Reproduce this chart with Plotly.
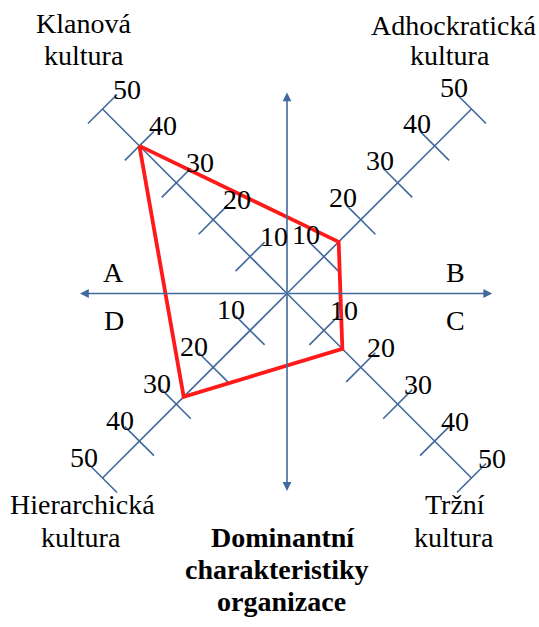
import plotly.graph_objects as go

# ---------------- data ----------------
culture_names = ["Klanová", "Adhockratická", "Tržní", "Hierarchická"]
culture_word = "kultura"
culture_values = [40, 14, 15, 28]          # Klanová, Adhockratická, Tržní, Hierarchická
tick_values = [10, 20, 30, 40, 50]
tick_labels = ["10", "20", "30", "40", "50"]
quadrant_labels = ["A", "B", "C", "D"]
title_lines = ["Dominantní", "charakteristiky", "organizace"]

# ---------------- geometry / style ----------------
W, H = 539, 627
PX = 3.69                 # pixels per unit
CX, CY = 287, 293.5       # centre in pixels
x_range = [-CX / PX, (W - CX) / PX]
y_range = [-(H - CY) / PX, CY / PX]

BLUE = "#41699b"
RED = "#ff1a1a"
FONT = "Liberation Serif"

# diagonal directions: TL (Klanová), TR (Adhock.), BR (Tržní), BL (Hierarch.)
dirs = [(-1, 1), (1, 1), (1, -1), (-1, -1)]
label_shift = [(24, 20), (-18, 22), (20, 20), (-19, 21)]
TICK_HALF = 3.94

fig = go.Figure()

# diagonal axes
for dx, dy in dirs:
    vmax = max(tick_values)
    fig.add_trace(go.Scatter(x=[0, dx * vmax], y=[0, dy * vmax], mode="lines",
                             line=dict(color=BLUE, width=1.6), hoverinfo="skip",
                             showlegend=False))
    # ticks (perpendicular)
    px_, py_ = -dy, dx
    tx, ty = [], []
    for v in tick_values:
        cx, cy = dx * v, dy * v
        tx += [cx - px_ * TICK_HALF, cx + px_ * TICK_HALF, None]
        ty += [cy - py_ * TICK_HALF, cy + py_ * TICK_HALF, None]
    fig.add_trace(go.Scatter(x=tx, y=ty, mode="lines",
                             line=dict(color=BLUE, width=1.6), hoverinfo="skip",
                             showlegend=False))

# main axes with arrows (both directions)
axis_ends = [(-56.1, 0), (55.6, 0), (0, 54.5), (0, -53.5)]
for ex, ey in axis_ends:
    fig.add_annotation(x=ex, y=ey, ax=0, ay=0, xref="x", yref="y", axref="x", ayref="y",
                       showarrow=True, arrowhead=2, arrowsize=1.1, arrowwidth=1.6,
                       arrowcolor=BLUE, text="")

# red polygon from values
poly_x = [dx * v for (dx, dy), v in zip(dirs, culture_values)]
poly_y = [dy * v for (dx, dy), v in zip(dirs, culture_values)]
fig.add_trace(go.Scatter(x=poly_x + [poly_x[0]], y=poly_y + [poly_y[0]], mode="lines",
                         line=dict(color=RED, width=3.8), hoverinfo="skip",
                         showlegend=False))

# tick labels
for (dx, dy), (sx, sy) in zip(dirs, label_shift):
    for v, t in zip(tick_values, tick_labels):
        fig.add_annotation(x=dx * v, y=dy * v, xref="x", yref="y", text=t,
                           showarrow=False, xshift=sx, yshift=sy,
                           font=dict(family=FONT, size=28, color="black"))

def paper(xp, yp):
    return xp / W, 1 - yp / H

# culture labels (two lines each)
name_pos = [(83.5, 23), (453, 25), (455, 504), (82.5, 504)]
word_pos = [(83.5, 56), (449.5, 56), (454, 537), (81, 537)]
for name, (nx, ny), (wx, wy) in zip(culture_names, name_pos, word_pos):
    x1, y1 = paper(nx, ny)
    fig.add_annotation(x=x1, y=y1, xref="paper", yref="paper", text=name,
                       showarrow=False, xanchor="center", yanchor="middle",
                       font=dict(family=FONT, size=28, color="black"))
    x2, y2 = paper(wx, wy)
    fig.add_annotation(x=x2, y=y2, xref="paper", yref="paper", text=culture_word,
                       showarrow=False, xanchor="center", yanchor="middle",
                       font=dict(family=FONT, size=28, color="black"))

# quadrant letters
quad_pos = [(113.5, 272), (455, 272), (455, 320), (113.5, 320)]
for q, (qx, qy) in zip(quadrant_labels, quad_pos):
    x1, y1 = paper(qx, qy)
    fig.add_annotation(x=x1, y=y1, xref="paper", yref="paper", text=q,
                       showarrow=False, xanchor="center", yanchor="middle",
                       font=dict(family=FONT, size=28, color="black"))

# bold caption
cap_pos = [(282.5, 537), (277, 569), (281, 601)]
for t, (tx_, ty_) in zip(title_lines, cap_pos):
    x1, y1 = paper(tx_, ty_)
    fig.add_annotation(x=x1, y=y1, xref="paper", yref="paper", text=f"<b>{t}</b>",
                       showarrow=False, xanchor="center", yanchor="middle",
                       font=dict(family=FONT, size=28, color="black"))

fig.update_layout(
    width=W, height=H, margin=dict(l=0, r=0, t=0, b=0),
    paper_bgcolor="white", plot_bgcolor="white",
    font=dict(family=FONT),
    xaxis=dict(range=x_range, visible=False, fixedrange=True),
    yaxis=dict(range=y_range, visible=False, fixedrange=True),
    showlegend=False,
)

fig.write_html("out.html", config={"displayModeBar": False},
               post_script="document.body.style.margin='0';document.body.style.overflow='hidden';")
